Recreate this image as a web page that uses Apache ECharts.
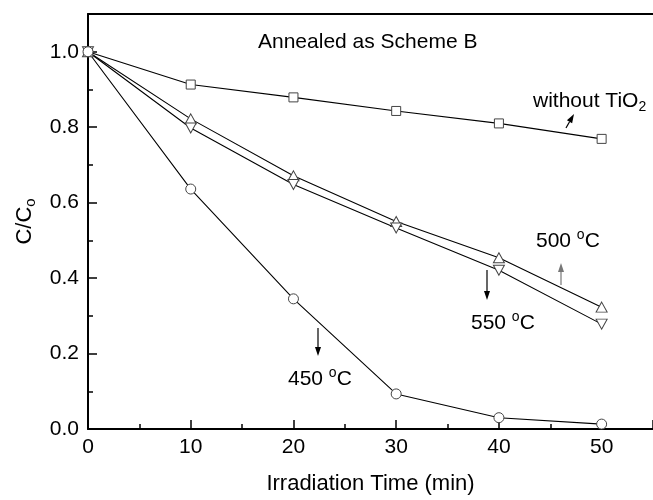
<!DOCTYPE html>
<html>
<head>
<meta charset="utf-8">
<script src="https://cdn.jsdelivr.net/npm/echarts@6/dist/echarts.min.js"></script>
<style>
  body { margin: 0; background: #fff; }
</style>
</head>
<body>
<div id="main" style="width: 653px; height: 500px"></div>
<script>
// irradiation time (min)
var time = [0, 10, 20, 30, 40, 50];
// C/Co values
var withoutTiO2 = [1.0, 0.913, 0.879, 0.843, 0.810, 0.769];
var t500 = [1.0, 0.822, 0.671, 0.550, 0.454, 0.323];
var t550 = [1.0, 0.798, 0.648, 0.533, 0.421, 0.278];
var t450 = [1.0, 0.636, 0.345, 0.093, 0.030, 0.013];

var FONT = "'Liberation Sans', Arial, sans-serif";

function pairs(ys) {
  var out = [];
  for (var i = 0; i < time.length; i++) out.push([time[i], ys[i]]);
  return out;
}

// small arrow: shaft + filled head
function arrow(x1, y1, x2, y2, color) {
  var dx = x2 - x1, dy = y2 - y1;
  var len = Math.sqrt(dx * dx + dy * dy);
  var ux = dx / len, uy = dy / len;
  var hl = 9, hw = 3;
  var bx = x2 - ux * hl, by = y2 - uy * hl;
  return [
    { type: "line", shape: { x1: x1, y1: y1, x2: bx, y2: by }, style: { stroke: color, lineWidth: 1.2 } },
    {
      type: "polygon",
      shape: { points: [[x2, y2], [bx - uy * hw, by + ux * hw], [bx + uy * hw, by - ux * hw]] },
      style: { fill: color }
    }
  ];
}

function label(x, y, text) {
  return {
    type: "text",
    x: x,
    y: y,
    style: {
      text: text,
      font: "21px " + FONT,
      fill: "#000",
      verticalAlign: "middle",
      rich: {
        sub: { fontSize: 14, fontFamily: FONT, padding: [12, 0, 0, 0] },
        sup: { fontSize: 14, fontFamily: FONT, padding: [0, 0, 12, 0] }
      }
    }
  };
}

function line(name, ys, symbol, size, rotate) {
  return {
    name: name,
    type: "line",
    data: pairs(ys),
    symbol: symbol,
    symbolSize: size,
    symbolRotate: rotate || 0,
    showAllSymbol: true,
    lineStyle: { color: "#000", width: 1.1 },
    itemStyle: { color: "#fff", borderColor: "#444", borderWidth: 1 },
    z: 3
  };
}

var chart = echarts.init(document.getElementById("main"));

var graphics = [
  label(258, 42, "Annealed as Scheme B"),
  label(533, 101, "without TiO{sub|2}"),
  label(536, 241, "500 {sup|o}C"),
  label(471, 323, "550 {sup|o}C"),
  label(288, 379, "450 {sup|o}C")
]
  .concat(arrow(566, 128, 574, 114, "#000"))
  .concat(arrow(561, 285, 561, 263, "#777"))
  .concat(arrow(487, 270, 487, 300, "#000"))
  .concat(arrow(318, 328, 318, 356, "#000"));

chart.setOption({
  animation: false,
  grid: { left: 88, right: -1, top: 14, bottom: 67 },
  textStyle: { fontFamily: FONT },
  xAxis: [
    {
      type: "value",
      min: 0,
      max: 55,
      interval: 10,
      name: "Irradiation Time (min)",
      nameLocation: "middle",
      nameGap: 44,
      nameTextStyle: { fontSize: 22, color: "#000", fontFamily: FONT },
      axisLine: { lineStyle: { color: "#000", width: 2 } },
      axisTick: { inside: true, length: 9, lineStyle: { color: "#000", width: 1.5 } },
      minorTick: { show: true, splitNumber: 2, length: 5, lineStyle: { color: "#000", width: 1.5 } },
      axisLabel: { fontSize: 21, color: "#000", margin: 8, showMaxLabel: false, fontFamily: FONT },
      splitLine: { show: false }
    },
    {
      type: "value",
      position: "top",
      min: 0,
      max: 55,
      axisLine: { show: true, lineStyle: { color: "#000", width: 2 } },
      axisTick: { show: false },
      axisLabel: { show: false },
      splitLine: { show: false }
    }
  ],
  yAxis: {
    type: "value",
    min: 0,
    max: 1.1,
    interval: 0.2,
    name: "C/C{sub|o}",
    nameLocation: "middle",
    nameGap: 50,
    nameTextStyle: {
      fontSize: 22,
      color: "#000",
      fontFamily: FONT,
      rich: { sub: { fontSize: 15, fontFamily: FONT, padding: [12, 0, 0, 0] } }
    },
    axisLine: { show: true, lineStyle: { color: "#000", width: 2 } },
    axisTick: { inside: true, length: 9, lineStyle: { color: "#000", width: 1.5 } },
    minorTick: { show: true, splitNumber: 2, length: 5, lineStyle: { color: "#000", width: 1.5 } },
    axisLabel: {
      fontSize: 21,
      color: "#000",
      margin: 9,
      showMaxLabel: false,
      fontFamily: FONT,
      formatter: function (v) { return v.toFixed(1); }
    },
    splitLine: { show: false }
  },
  series: [
    line("without TiO2", withoutTiO2, "rect", 9),
    line("500 C", t500, "triangle", [11, 10]),
    line("550 C", t550, "triangle", [11, 10], 180),
    line("450 C", t450, "circle", 10)
  ],
  graphic: graphics
});
</script>
</body>
</html>
